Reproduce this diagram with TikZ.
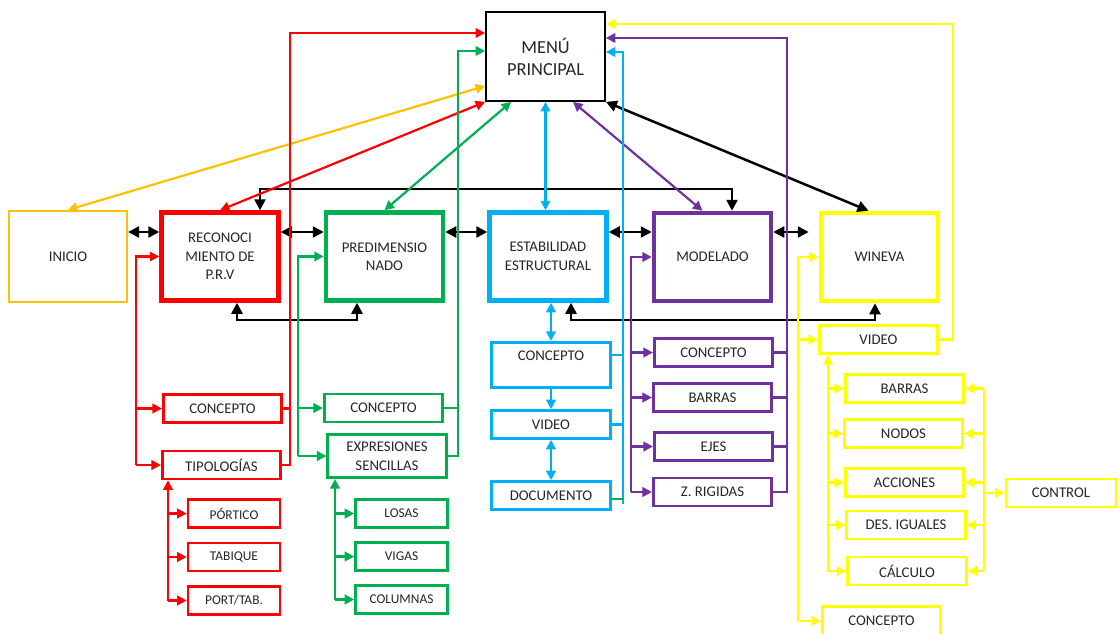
\documentclass[tikz,border=0pt]{standalone}
\usepackage{fontspec}
\setmainfont{Carlito}
\usetikzlibrary{arrows.meta,calc,positioning}
\definecolor{naranja}{HTML}{FFC000}
\definecolor{rojo}{HTML}{FF0000}
\definecolor{verde}{HTML}{00B050}
\definecolor{celeste}{HTML}{00B0F0}
\definecolor{morado}{HTML}{7030A0}
\definecolor{amarillo}{HTML}{FFFF00}

\begin{document}
\begin{tikzpicture}[x=1pt,y=-1pt,>={Triangle[length=9.5pt,width=9.5pt]},
  txt/.style={align=center,text=black!85,font=\fontsize{14.8}{18.5}\selectfont},
  mainbox/.style={txt,draw=#1,line width=4.5pt,minimum width=117,minimum height=88},
  subbox/.style={txt,draw=#1,line width=2.6pt,minimum width=118.5,minimum height=28},
  smallbox/.style={subbox=#1,minimum width=92,font=\fontsize{13.4}{16}\selectfont},
  link/.style={line width=2.2pt,draw=#1},
  link/.default=black,
  blk/.style={link,line width=2.5pt,>={Triangle[length=11pt,width=11pt]}}]
\useasboundingbox (0,0) rectangle (1120,634);

% Nodes
\node[txt,draw,line width=1.8pt,minimum width=119,minimum height=89,font=\fontsize{18.4}{22}\selectfont] (menu) at (545.5,56.5) {MENÚ\\PRINCIPAL};
\node[mainbox=naranja,line width=2.2pt,minimum width=118,minimum height=91] (inicio) at (68,256.5) {INICIO};
\node[mainbox=rojo] (rec) at (220,256.5) {RECONOCI\\MIENTO DE\\P.R.V};
\node[mainbox=verde] (pred) at (384.5,256.5) {PREDIMENSIO\\NADO};
\node[mainbox=celeste] (estab) at (548,256.5) {ESTABILIDAD\\ESTRUCTURAL};
\node[mainbox=morado] (mod) at (712.5,257) {MODELADO};
\node[mainbox=amarillo] (win) at (879.5,257) {WINEVA};

\node[subbox=rojo] (rcon) at (222.5,408.5) {CONCEPTO};
\node[subbox=rojo] (rtip) at (221.5,465) {TIPOLOGÍAS};
\node[smallbox=rojo] (rpor) at (234,513.5) {PÓRTICO};
\node[smallbox=rojo] (rtab) at (234,557) {TABIQUE};
\node[smallbox=rojo] (rpt) at (234,600.5) {PORT/TAB.};

\node[subbox=verde] (gcon) at (383.5,408) {CONCEPTO};
\node[subbox=verde,minimum height=43.5] (gexp) at (387,456) {EXPRESIONES\\SENCILLAS};
\node[smallbox=verde] (glos) at (401.5,513.5) {LOSAS};
\node[smallbox=verde] (gvig) at (401.5,556.5) {VIGAS};
\node[smallbox=verde] (gcol) at (401.5,599.5) {COLUMNAS};

\node[subbox=celeste,minimum height=45.5] (ccon) at (551,365) {CONCEPTO\\\mbox{}};
\node[subbox=celeste] (cvid) at (551,424.5) {VIDEO};
\node[subbox=celeste,minimum width=119.5] (cdoc) at (551,495.5) {DOCUMENTO};

\node[subbox=morado] (pcon) at (713.5,352.5) {CONCEPTO};
\node[subbox=morado] (pbar) at (712.5,397.5) {BARRAS};
\node[subbox=morado] (peje) at (713.5,446.5) {EJES};
\node[subbox=morado] (prig) at (712.5,492) {Z. RIGIDAS};

\node[subbox=amarillo] (yvid) at (878.5,339.5) {VIDEO};
\node[subbox=amarillo] (ybar) at (904.5,388.5) {BARRAS};
\node[subbox=amarillo] (ynod) at (903.5,433.5) {NODOS};
\node[subbox=amarillo] (yacc) at (904.5,482.5) {ACCIONES};
\node[subbox=amarillo] (ydes) at (906,525) {DES. IGUALES};
\node[subbox=amarillo] (ycal) at (907,571) {CÁLCULO};
\node[subbox=amarillo,minimum height=29.5] (ycon) at (881.5,621) {CONCEPTO};
\node[subbox=amarillo,minimum width=110] (yctl) at (1061,493) {CONTROL};

% Black links between modules
\coordinate (hrow) at (0,232);
\draw[blk,<->] (inicio.east |- hrow) -- (rec.west |- hrow);
\draw[blk,<->] (rec.east |- hrow) -- (pred.west |- hrow);
\draw[blk,<->] (pred.east |- hrow) -- (estab.west |- hrow);
\draw[blk,<->] (estab.east |- hrow) -- (mod.west |- hrow);
\draw[blk,<->,shorten >=10pt] (mod.east |- hrow) -- (win.west |- hrow);

\coordinate (trow) at (0,189);
\coordinate (recT) at ($(rec.north)+(40,0)$);
\coordinate (modT) at ($(mod.north)+(19.5,0)$);
\draw[blk,<->] (recT) -- (recT |- trow) -- (modT |- trow) -- (modT);

\coordinate (brow) at (0,320);
\coordinate (recB) at ($(rec.south)+(17,0)$);
\coordinate (predB) at ($(pred.south)+(-27.5,0)$);
\coordinate (estB) at ($(estab.south)+(23,0)$);
\coordinate (winB) at ($(win.south)+(-4.5,0)$);
\draw[blk,<->] (recB) -- (recB |- brow) -- (predB |- brow) -- (predB);
\draw[blk,<->] (estB) -- (estB |- brow) -- (winB |- brow) -- (winB);

% Links to the main menu
\draw[link=naranja,<->] (menu.west |- 0,86) -- (inicio.north);
\draw[link=rojo,<->] (menu.south west) -- (rec.north);
\draw[link=verde,<->] ($(menu.south west)+(26,0)$) -- (pred.north);
\draw[link=celeste,<->] (menu.south) -- (menu.south |- estab.north);
\draw[link=morado,<->] ($(menu.south)+(27.5,0)$) -- ($(mod.north)+(-10,0)$);
\draw[blk,<->] (menu.south east) -- ($(win.north)+(-11,0)$);

% Red branch
\coordinate (rbus) at (136,0);
\coordinate (rsub) at (168,0);
\coordinate (rtop) at (290,33);
\draw[link=rojo,->] (rbus |- rtip.west) |- (rec.west);
\draw[link=rojo,->] (rbus |- rcon.west) -- (rcon.west);
\draw[link=rojo,->] (rbus |- rtip.west) -- (rtip.west);
\draw[link=rojo,->] (rtip.east) -| (rtop) -- (rtop -| menu.west);
\draw[link=rojo] (rcon.east) -- (rcon.east -| rtop);
\draw[link=rojo,->] (rsub |- rpt.west) -- (rsub |- rtip.south);
\foreach \n in {rpor,rtab,rpt}
  \draw[link=rojo,->] (rsub |- \n.west) -- (\n.west);

% Green branch
\coordinate (gbus) at (298,0);
\coordinate (gsub) at (335,0);
\coordinate (gtop) at (458,51);
\draw[link=verde,->] (gbus |- gexp.west) |- (pred.west);
\draw[link=verde,->] (gbus |- gcon.west) -- (gcon.west);
\draw[link=verde,->] (gbus |- gexp.west) -- (gexp.west);
\draw[link=verde,->] (gexp.east) -| (gtop) -- (gtop -| menu.west);
\draw[link=verde] (gcon.east) -- (gcon.east -| gtop);
\draw[link=verde,->] (gsub |- gcol.west) -- (gsub |- gexp.south);
\foreach \n in {glos,gvig,gcol}
  \draw[link=verde,->] (gsub |- \n.west) -- (\n.west);

% Cyan branch
\coordinate (ctop) at (623,52);
\draw[link=celeste,<->] (ccon.north |- estab.south) -- (ccon.north);
\draw[link=celeste,->] (ccon.south) -- (cvid.north);
\draw[link=celeste,<->] (cvid.south) -- (cdoc.north);
\draw[link=celeste,->] ($(cdoc.east -| ctop)+(0,8)$) -- (ctop) -- (ctop -| menu.east);
\draw[link=celeste] ($(ccon.east)+(0,-10)$) -- ($(ccon.east -| ctop)+(0,-10)$);
\draw[link=celeste] (cvid.east) -- (cvid.east -| ctop);
\draw[link=verde] ($(cdoc.east)+(0,3.5)$) -- ($(cdoc.east -| ctop)+(1,3.5)$);

% Purple branch
\coordinate (pbus) at (631,0);
\coordinate (ptop) at (787,38);
\draw[link=morado,->] (pbus |- prig.west) |- (mod.west);
\foreach \n in {pcon,pbar,peje,prig}
  \draw[link=morado,->] (pbus |- \n.west) -- (\n.west);
\draw[link=morado,->] (prig.east) -| (ptop) -- (ptop -| menu.east);
\foreach \n in {pcon,pbar,peje}
  \draw[link=morado] (\n.east) -- (\n.east -| ptop);

% Yellow branch
\coordinate (ybus) at (798,0);
\coordinate (ysub) at (828,0);
\coordinate (yrbus) at (984,0);
\coordinate (ytop) at (953,24);
\draw[link=amarillo,->] (ybus |- ycon.west) |- (win.west);
\draw[link=amarillo,->] (ybus |- yvid.west) -- (yvid.west);
\draw[link=amarillo,->] (ybus |- ycon.west) -- (ycon.west);
\draw[link=amarillo,->] (yvid.east) -| (ytop) -- (ytop -| menu.east);
\draw[link=amarillo,->] (ysub |- ycal.west) -- (ysub |- yvid.south);
\foreach \n in {ybar,ynod,yacc,ydes,ycal}
  \draw[link=amarillo,->] (ysub |- \n.west) -- (\n.west);
\draw[link=amarillo] (yrbus |- ybar.east) -- (yrbus |- ycal.east);
\foreach \n in {ybar,ynod,yacc,ydes,ycal}
  \draw[link=amarillo,->] (yrbus |- \n.east) -- (\n.east);
\draw[link=amarillo,->] (yrbus |- yctl.west) -- (yctl.west);
\end{tikzpicture}
\end{document}
